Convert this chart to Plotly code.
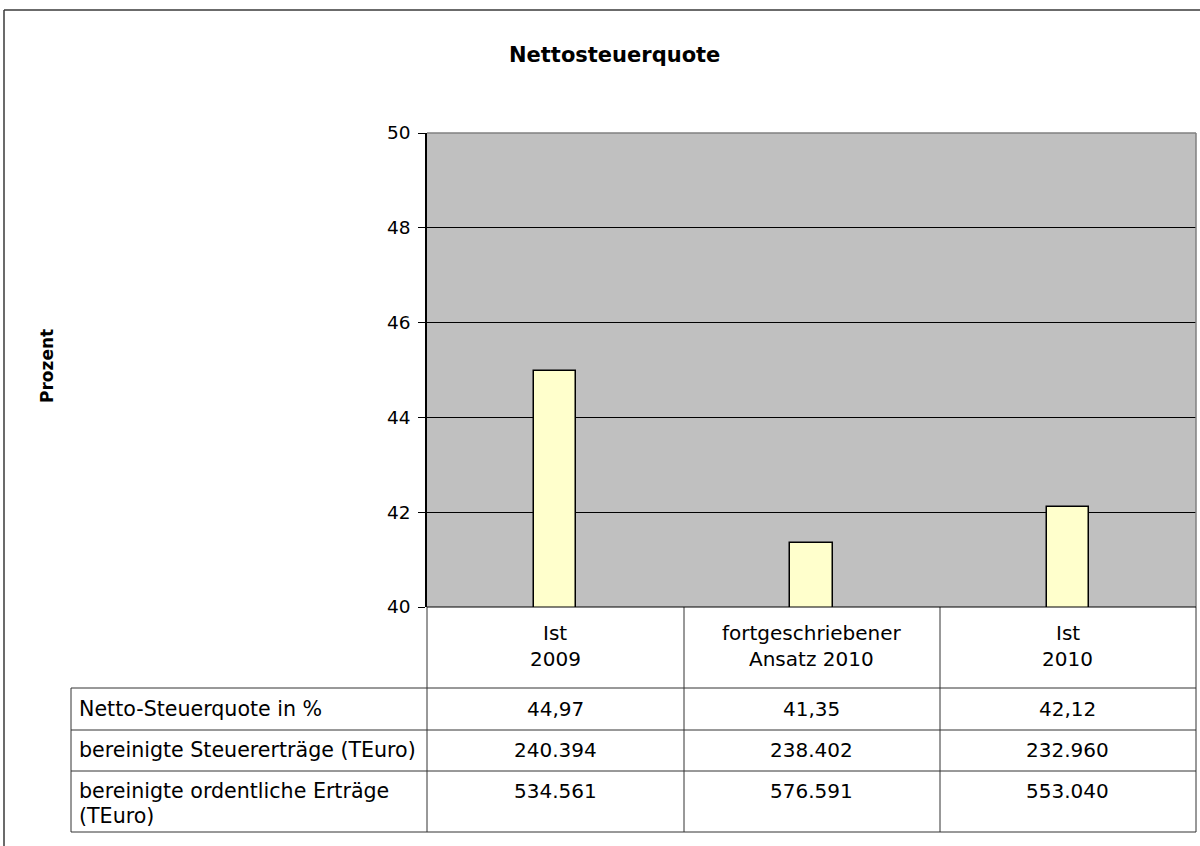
import plotly.graph_objects as go

W, H = 1200, 846

title = "Nettosteuerquote"
y_title = "Prozent"
categories = ["Ist<br>2009", "fortgeschriebener<br>Ansatz 2010", "Ist<br>2010"]
quote = [44.97, 41.35, 42.12]
row_labels = ["Netto-Steuerquote in %",
              "bereinigte Steuererträge (TEuro)",
              "bereinigte ordentliche Erträge<br>(TEuro)"]
steuerertraege = ["240.394", "238.402", "232.960"]
ordentliche_ertraege = ["534.561", "576.591", "553.040"]
y_ticks = [40, 42, 44, 46, 48, 50]

FONT = "DejaVu Sans"
FS = 20


def px(x):
    return x / W


def py(y):
    return 1 - y / H


fig = go.Figure()
fig.add_trace(go.Bar(
    x=categories, y=quote, width=0.164,
    marker=dict(color="#FFFFCC", line=dict(color="#000000", width=1.5)),
    showlegend=False, hoverinfo="x+y",
))

shapes = []


def line(x0, y0, x1, y1, color="#000000", width=1):
    shapes.append(dict(type="line", xref="paper", yref="paper",
                       x0=px(x0), y0=py(y0), x1=px(x1), y1=py(y1),
                       line=dict(color=color, width=width)))


# outer chart border
line(4, 10, 1200, 10, "#3a3a3a", 1.5)
line(4, 10, 4, 846, "#3a3a3a", 1.5)
# plot area border (top/right)
line(427, 133, 1196, 133, "#808080", 1.5)
line(1196, 133, 1196, 607, "#808080", 1.5)

# data table grid
for x in [427, 684, 940, 1196]:
    line(x, 607, x, 832, "#333333", 1)
line(71, 688, 71, 832, "#333333", 1)
for y in [688, 730, 771, 832]:
    line(71, y, 1196, y, "#333333", 1)
line(427, 607, 1196, 607, "#000000", 1.2)

annotations = []


def txt(text, x, y, xref="paper", xanchor="center", size=FS, bold=False, angle=0):
    if bold:
        text = "<b>%s</b>" % text
    annotations.append(dict(text=text, x=x if xref == "x" else px(x), y=py(y),
                            xref=xref, yref="paper", xanchor=xanchor, yanchor="middle",
                            showarrow=False, textangle=angle,
                            font=dict(family=FONT, size=size, color="#000000")))


# title and axis title
txt(title, 614, 55, size=21, bold=True)
txt(y_title, 47, 366, size=17, bold=True, angle=-90)

# category headers (two lines each)
for c in categories:
    for i, part in enumerate(c.split("<br>")):
        txt(part, c, 633 + 26 * i, xref="x")

# row labels
for lbl, ry in zip(row_labels, [709, 750, 791]):
    for i, part in enumerate(lbl.split("<br>")):
        txt(part, 77, ry + 25 * i, xanchor="left", size=20.6)

# values
rows = [[("%.2f" % v).replace(".", ",") for v in quote], steuerertraege, ordentliche_ertraege]
for vals, ry in zip(rows, [709, 750, 791]):
    for c, v in zip(categories, vals):
        txt(v, c, ry, xref="x")

fig.update_layout(
    width=W, height=H,
    margin=dict(l=0, r=0, t=0, b=0, pad=0, autoexpand=False),
    paper_bgcolor="#FFFFFF",
    plot_bgcolor="#C0C0C0",
    font=dict(family=FONT, size=FS, color="#000000"),
    xaxis=dict(domain=[px(427), px(1196)], showticklabels=False, ticks="",
               showgrid=False, zeroline=False, showline=False, fixedrange=True),
    yaxis=dict(domain=[py(607), py(133)], range=[40, 50], tickvals=y_ticks,
               ticks="outside", ticklen=7, tickcolor="#000000", tickwidth=1,
               showline=True, linecolor="#000000", linewidth=1.5,
               showgrid=True, gridcolor="#000000", gridwidth=1,
               zeroline=False, tickfont=dict(family=FONT, size=18.5, color="#000000"),
               ticklabelstandoff=4, fixedrange=True),
    shapes=shapes,
    annotations=annotations,
    bargap=0,
)

fig.write_html("out.html",
               config={"displayModeBar": False},
               post_script="document.body.style.margin='0';"
                           "document.body.style.overflow='hidden';")
